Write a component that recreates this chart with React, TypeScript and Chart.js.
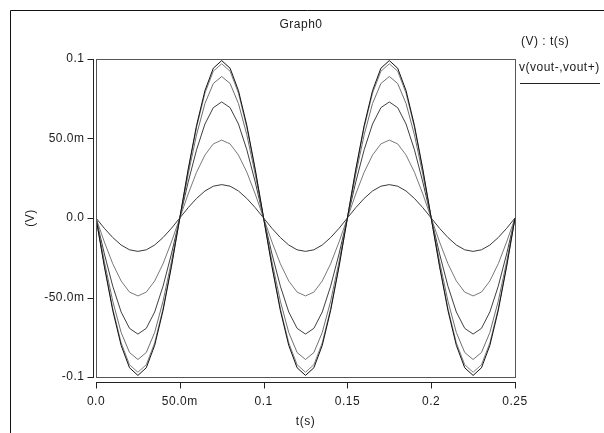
import React, { useEffect, useRef } from "react";
import { Chart, registerables } from "chart.js";

Chart.register(...registerables);

// time axis (s)
const times = [
  0, 0.005, 0.01, 0.015, 0.02, 0.025, 0.03, 0.035, 0.04, 0.045,
  0.05, 0.055, 0.06, 0.065, 0.07, 0.075, 0.08, 0.085, 0.09, 0.095,
  0.1, 0.105, 0.11, 0.115, 0.12, 0.125, 0.13, 0.135, 0.14, 0.145,
  0.15, 0.155, 0.16, 0.165, 0.17, 0.175, 0.18, 0.185, 0.19, 0.195,
  0.2, 0.205, 0.21, 0.215, 0.22, 0.225, 0.23, 0.235, 0.24, 0.245,
  0.25,
];

// v(vout-,vout+) (V), six traces
const trace1 = [
  0, -0.0306, -0.0582, -0.0801, -0.0942, -0.099, -0.0942, -0.0801, -0.0582, -0.0306,
  0, 0.0306, 0.0582, 0.0801, 0.0942, 0.099, 0.0942, 0.0801, 0.0582, 0.0306,
  0, -0.0306, -0.0582, -0.0801, -0.0942, -0.099, -0.0942, -0.0801, -0.0582, -0.0306,
  0, 0.0306, 0.0582, 0.0801, 0.0942, 0.099, 0.0942, 0.0801, 0.0582, 0.0306,
  0, -0.0306, -0.0582, -0.0801, -0.0942, -0.099, -0.0942, -0.0801, -0.0582, -0.0306,
  0,
];
const trace2 = [
  0, -0.03, -0.057, -0.0785, -0.0923, -0.097, -0.0923, -0.0785, -0.057, -0.03,
  0, 0.03, 0.057, 0.0785, 0.0923, 0.097, 0.0923, 0.0785, 0.057, 0.03,
  0, -0.03, -0.057, -0.0785, -0.0923, -0.097, -0.0923, -0.0785, -0.057, -0.03,
  0, 0.03, 0.057, 0.0785, 0.0923, 0.097, 0.0923, 0.0785, 0.057, 0.03,
  0, -0.03, -0.057, -0.0785, -0.0923, -0.097, -0.0923, -0.0785, -0.057, -0.03,
  0,
];
const trace3 = [
  0, -0.0275, -0.0523, -0.072, -0.0846, -0.089, -0.0846, -0.072, -0.0523, -0.0275,
  0, 0.0275, 0.0523, 0.072, 0.0846, 0.089, 0.0846, 0.072, 0.0523, 0.0275,
  0, -0.0275, -0.0523, -0.072, -0.0846, -0.089, -0.0846, -0.072, -0.0523, -0.0275,
  0, 0.0275, 0.0523, 0.072, 0.0846, 0.089, 0.0846, 0.072, 0.0523, 0.0275,
  0, -0.0275, -0.0523, -0.072, -0.0846, -0.089, -0.0846, -0.072, -0.0523, -0.0275,
  0,
];
const trace4 = [
  0, -0.0226, -0.0429, -0.0591, -0.0694, -0.073, -0.0694, -0.0591, -0.0429, -0.0226,
  0, 0.0226, 0.0429, 0.0591, 0.0694, 0.073, 0.0694, 0.0591, 0.0429, 0.0226,
  0, -0.0226, -0.0429, -0.0591, -0.0694, -0.073, -0.0694, -0.0591, -0.0429, -0.0226,
  0, 0.0226, 0.0429, 0.0591, 0.0694, 0.073, 0.0694, 0.0591, 0.0429, 0.0226,
  0, -0.0226, -0.0429, -0.0591, -0.0694, -0.073, -0.0694, -0.0591, -0.0429, -0.0226,
  0,
];
const trace5 = [
  0, -0.0151, -0.0288, -0.0396, -0.0466, -0.049, -0.0466, -0.0396, -0.0288, -0.0151,
  0, 0.0151, 0.0288, 0.0396, 0.0466, 0.049, 0.0466, 0.0396, 0.0288, 0.0151,
  0, -0.0151, -0.0288, -0.0396, -0.0466, -0.049, -0.0466, -0.0396, -0.0288, -0.0151,
  0, 0.0151, 0.0288, 0.0396, 0.0466, 0.049, 0.0466, 0.0396, 0.0288, 0.0151,
  0, -0.0151, -0.0288, -0.0396, -0.0466, -0.049, -0.0466, -0.0396, -0.0288, -0.0151,
  0,
];
const trace6 = [
  0, -0.0065, -0.0123, -0.017, -0.02, -0.021, -0.02, -0.017, -0.0123, -0.0065,
  0, 0.0065, 0.0123, 0.017, 0.02, 0.021, 0.02, 0.017, 0.0123, 0.0065,
  0, -0.0065, -0.0123, -0.017, -0.02, -0.021, -0.02, -0.017, -0.0123, -0.0065,
  0, 0.0065, 0.0123, 0.017, 0.02, 0.021, 0.02, 0.017, 0.0123, 0.0065,
  0, -0.0065, -0.0123, -0.017, -0.02, -0.021, -0.02, -0.017, -0.0123, -0.0065,
  0,
];

const traces = [trace1, trace2, trace3, trace4, trace5, trace6];
const traceColors = ["#111111", "#808080", "#707070", "#404040", "#7a7a7a", "#3a3a3a"];

const yTickValues = [0.1, 0.05, 0, -0.05, -0.1];
const yTickLabels = ["0.1", "50.0m", "0.0", "-50.0m", "-0.1"];
const xTickValues = [0, 0.05, 0.1, 0.15, 0.2, 0.25];
const xTickLabels = ["0.0", "50.0m", "0.1", "0.15", "0.2", "0.25"];

const titleText = "Graph0";
const xTitle = "t(s)";
const yTitle = "(V)";
const legendHeader = "(V) : t(s)";
const legendName = "v(vout-,vout+)";

const FONT = '12px "Liberation Sans", Arial, sans-serif';
const TEXT = "#1a1a1a";

const decorPlugin = {
  id: "decor",
  beforeDraw(chart: any) {
    const ctx = chart.ctx;
    ctx.save();
    ctx.fillStyle = "#ffffff";
    ctx.fillRect(0, 0, chart.width, chart.height);
    ctx.restore();
  },
  afterDraw(chart: any) {
    const ctx = chart.ctx as CanvasRenderingContext2D;
    const a = chart.chartArea;
    const xs = chart.scales.x;
    const ys = chart.scales.y;
    ctx.save();
    (ctx as any).letterSpacing = "0.5px";
    // outer frame
    ctx.strokeStyle = "#111";
    ctx.lineWidth = 1;
    ctx.beginPath();
    ctx.moveTo(10.5, chart.height);
    ctx.lineTo(10.5, 10.5);
    ctx.lineTo(chart.width, 10.5);
    ctx.stroke();

    // plot box
    ctx.strokeStyle = "#555";
    ctx.strokeRect(Math.round(a.left) + 0.5, Math.round(a.top) + 0.5, Math.round(a.right - a.left), Math.round(a.bottom - a.top));

    // y axis line and ticks
    ctx.strokeStyle = "#222";
    const yAxisX = Math.round(a.left) - 3 + 0.5;
    ctx.beginPath();
    ctx.moveTo(yAxisX, Math.round(a.top));
    ctx.lineTo(yAxisX, Math.round(a.bottom) + 1);
    yTickValues.forEach((v) => {
      const py = Math.round(ys.getPixelForValue(v)) + 0.5;
      ctx.moveTo(yAxisX - 6, py);
      ctx.lineTo(yAxisX, py);
    });
    ctx.stroke();
    ctx.fillStyle = TEXT;
    ctx.font = FONT;
    ctx.textAlign = "right";
    ctx.textBaseline = "middle";
    yTickLabels.forEach((lab, i) => {
      const py = ys.getPixelForValue(yTickValues[i]);
      ctx.fillText(lab, yAxisX - 9, py);
    });

    // x axis line and ticks
    const xAxisY = Math.round(a.bottom) + 5 + 0.5;
    ctx.beginPath();
    ctx.moveTo(Math.round(a.left), xAxisY);
    ctx.lineTo(Math.round(a.right) + 1, xAxisY);
    xTickValues.forEach((v) => {
      const px = Math.round(xs.getPixelForValue(v)) + 0.5;
      ctx.moveTo(px, xAxisY);
      ctx.lineTo(px, xAxisY + 6);
    });
    ctx.stroke();
    ctx.textAlign = "center";
    xTickLabels.forEach((lab, i) => {
      const px = xs.getPixelForValue(xTickValues[i]);
      ctx.fillText(lab, px, xAxisY + 19);
    });

    // axis titles
    ctx.fillText(xTitle, (a.left + a.right) / 2, xAxisY + 39);
    ctx.save();
    ctx.translate(31, ys.getPixelForValue(0));
    ctx.rotate(-Math.PI / 2);
    ctx.fillText(yTitle, 0, 0);
    ctx.restore();

    // title
    ctx.fillText(titleText, 301, 25);

    // legend
    ctx.textAlign = "left";
    ctx.fillText(legendHeader, 521, 42);
    ctx.fillText(legendName, 519, 68);
    ctx.strokeStyle = "#222";
    ctx.beginPath();
    ctx.moveTo(520, 83.5);
    ctx.lineTo(600, 83.5);
    ctx.stroke();
    ctx.restore();
  },
};

export default function App() {
  const ref = useRef<HTMLCanvasElement | null>(null);
  useEffect(() => {
    document.body.style.margin = "0";
    const canvas = ref.current;
    if (!canvas) return;
    const datasets = traces.map((tr, i) => ({
      label: legendName,
      data: times.map((t, j) => ({ x: t, y: tr[j] })),
      borderColor: traceColors[i],
      backgroundColor: traceColors[i],
      borderWidth: 1,
      pointRadius: 0,
      tension: 0,
      fill: false,
    }));
    const chart = new Chart(canvas, {
      type: "line",
      data: { datasets },
      options: {
        animation: false,
        responsive: false,
        devicePixelRatio: 1,
        layout: { padding: { left: 96, top: 59, right: 89, bottom: 56 } },
        plugins: { legend: { display: false }, tooltip: { enabled: false }, title: { display: false } },
        scales: {
          x: { type: "linear", min: 0, max: 0.25, display: false },
          y: { type: "linear", min: -0.1, max: 0.1, display: false },
        },
      },
      plugins: [decorPlugin],
    });
    return () => chart.destroy();
  }, []);
  return (
    <div style={{ width: 604, height: 433 }}>
      <canvas ref={ref} width={604} height={433} style={{ display: "block" }} />
    </div>
  );
}
